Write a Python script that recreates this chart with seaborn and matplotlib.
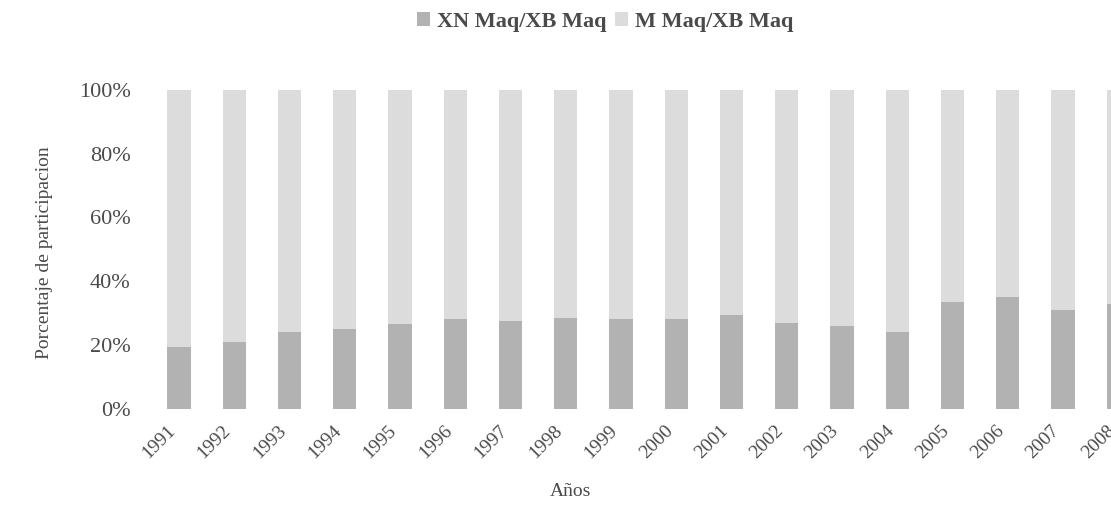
import numpy as np
import pandas as pd
import matplotlib
matplotlib.use("Agg")
import matplotlib.pyplot as plt
import matplotlib.transforms as mtransforms
import seaborn as sns
from matplotlib.patches import Patch

years = [str(y) for y in range(1991, 2009)]
xn_share = [19.4, 20.9, 23.9, 24.9, 26.4, 28.1, 27.4, 28.5, 28.1, 28.1, 29.3, 26.7, 26.0, 23.9, 33.3, 34.9, 30.9, 32.7]
m_share = [100 - v for v in xn_share]

dark = "#b2b2b2"
light = "#dcdcdc"
txt = "#4a4a4a"

sns.set_style("white")
plt.rcParams['font.family'] = ['Liberation Serif', 'DejaVu Serif']
plt.rcParams['text.color'] = txt
plt.rcParams['xtick.color'] = txt
plt.rcParams['ytick.color'] = txt

df = pd.DataFrame({'year': years, 'xn': xn_share, 'm': m_share})
df['total'] = df['xn'] + df['m']

# axes runs past the right edge on purpose: the last bar is cut off like in the original
fig = plt.figure(figsize=[11.11, 5.16], dpi=100)
ax = fig.add_axes([150/1111, 1-408.5/516, (1160-150)/1111, (408.5-90)/516])

sns.barplot(data=df, x='year', y='total', color=light, width=0.42, saturation=1, ax=ax, edgecolor='none')
sns.barplot(data=df, x='year', y='xn', color=dark, width=0.42, saturation=1, ax=ax, edgecolor='none')

ax.set_xlim(-0.525, (1160-179)/55.25)
ax.set_ylim(0, 100)
ax.set_yticks([0, 20, 40, 60, 80, 100])
ax.set_yticklabels([f"{v}%" for v in [0, 20, 40, 60, 80, 100]], fontsize=16)
ax.tick_params(axis='y', length=0, pad=14)
ax.tick_params(axis='x', length=0, pad=10)
shift = mtransforms.ScaledTranslation(-12/100, 0, fig.dpi_scale_trans)
for lab in ax.get_xticklabels():
    lab.set_rotation(45)
    lab.set_ha('right')
    lab.set_rotation_mode('anchor')
    lab.set_fontsize(14)
    lab.set_transform(lab.get_transform() + shift)
for s in ax.spines.values():
    s.set_visible(False)
ax.set_xlabel("")
ax.set_ylabel("")

fig.text(570/1111, 1-491/516, "Años", ha='center', va='center', fontsize=14)
fig.text(45/1111, 1-253/516, "Porcentaje de participacion", ha='center', va='center', rotation=90, fontsize=14)

handles = [Patch(facecolor=dark, edgecolor='none', label='XN Maq/XB Maq'),
           Patch(facecolor=light, edgecolor='none', label='M Maq/XB Maq')]
fig.legend(handles=handles, loc='center', bbox_to_anchor=(605/1111, 1-22/516), ncol=2, frameon=False,
           prop={'weight': 'bold', 'size': 16}, handlelength=0.6, handleheight=0.6, handletextpad=0.3, columnspacing=0.4)

fig.savefig("out.png", dpi=100)
